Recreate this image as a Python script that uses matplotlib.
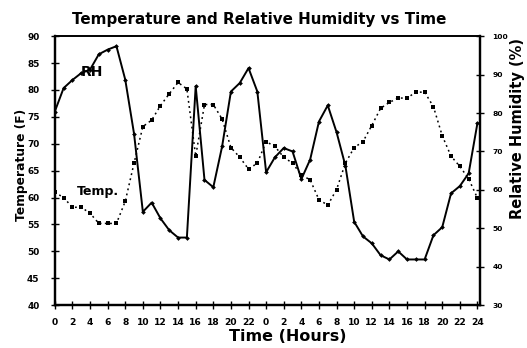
import matplotlib
matplotlib.use("Agg")
import matplotlib.pyplot as plt
import numpy as np

plt.rcParams["font.family"] = ["DejaVu Sans"]
plt.rcParams["font.weight"] = "bold"

# hourly readings over two days (hour 0 .. 48)
hours = list(range(49))

temp_f = [
    61.0, 60.0, 58.2, 58.2, 57.1, 55.2, 55.2, 55.2, 59.3, 66.4,
    73.2, 74.4, 77.1, 79.3, 81.4, 80.2, 67.7, 77.3, 77.3, 74.6,
    69.3, 67.5, 65.3, 66.4, 70.4, 69.5, 67.5, 66.4, 64.2, 63.3,
    59.6, 58.6, 61.5, 66.4, 69.3, 70.4, 73.4, 76.6, 77.7, 78.5,
    78.5, 79.6, 79.6, 76.9, 71.5, 67.7, 65.8, 63.5, 59.9,
]

rh_pct = [
    80.4, 86.5, 88.6, 90.4, 91.3, 95.3, 96.5, 97.4, 88.7, 74.6,
    54.3, 56.7, 52.6, 49.5, 47.6, 47.6, 87.0, 62.6, 60.7, 71.3,
    85.6, 87.8, 91.7, 85.6, 64.6, 68.5, 70.9, 70.0, 62.8, 67.9,
    77.8, 82.0, 75.0, 66.3, 51.7, 47.9, 46.1, 43.0, 41.9, 44.0,
    41.9, 41.9, 41.9, 48.2, 50.3, 59.1, 61.0, 64.3, 77.4,
]

xtick_pos = list(range(0, 49, 2))
xtick_labels = [str(h % 24) if h < 48 else "24" for h in xtick_pos]

temp_ticks = list(range(40, 91, 5))
rh_ticks = list(range(30, 101, 10))

fig = plt.figure(figsize=(5.27, 3.48), dpi=100)
ax = fig.add_axes([0.104, 0.123, 0.807, 0.773])
ax2 = ax.twinx()

# temperature: dotted line, small square markers (left axis)
ax.plot(hours, temp_f, color="black", linestyle=(0, (1.2, 2.2)), linewidth=1.1,
        marker="s", markersize=2.6, markeredgewidth=0)

# relative humidity: solid line, small markers (right axis)
ax2.plot(hours, rh_pct, color="black", linestyle="-", linewidth=1.4,
         marker="D", markersize=2.4, markeredgewidth=0)

ax.set_xlim(0, 48.3)
ax.set_ylim(40, 90)
ax2.set_ylim(30, 100)

ax.set_xticks(xtick_pos)
ax.set_xticklabels(xtick_labels, fontsize=6.6, fontweight="bold")
ax.set_yticks(temp_ticks)
ax.set_yticklabels([str(t) for t in temp_ticks], fontsize=6.4, fontweight="bold")
ax2.set_yticks(rh_ticks)
ax2.set_yticklabels([str(t) for t in rh_ticks], fontsize=5.4, fontweight="bold")

ax.tick_params(axis="x", direction="inout", length=6, width=1.0, pad=6)
ax.tick_params(axis="y", direction="inout", length=6, width=1.0, pad=8)
ax2.tick_params(axis="y", direction="inout", length=6, width=1.0, pad=6)

for a in (ax, ax2):
    for side in ("left", "right", "bottom"):
        a.spines[side].set_linewidth(1.6)
    a.spines["top"].set_linewidth(1.2)

ax.set_title("Temperature and Relative Humidity vs Time", fontsize=10.9,
             fontweight="bold", pad=9, x=0.48)
ax.set_xlabel("Time (Hours)", fontsize=11.5, fontweight="bold")
ax.xaxis.set_label_coords(0.547, -0.088)
ax.set_ylabel("Temperature (F)", fontsize=8.8, fontweight="bold")
ax.yaxis.set_label_coords(-0.064, 0.52)
ax2.set_ylabel("Relative Humidity (%)", fontsize=10.5, fontweight="bold",
               rotation=90)
ax2.yaxis.set_label_coords(1.071, 0.655)

# series labels placed beside each curve
ax.text(4.2, 83.3, "RH", fontsize=10, fontweight="bold", ha="center", va="center")
ax.text(4.9, 61.2, "Temp.", fontsize=9, fontweight="bold", ha="center", va="center")

fig.savefig("out.png", dpi=100)
